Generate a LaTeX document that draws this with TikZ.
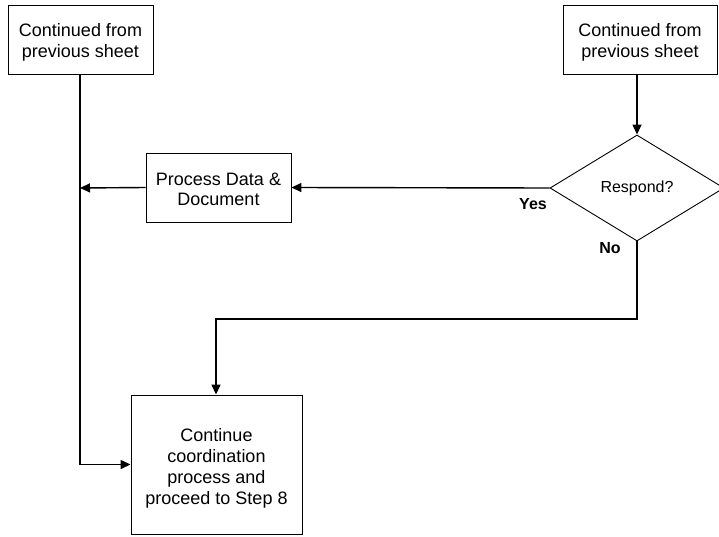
\documentclass[tikz,border=0pt]{standalone}
\usepackage{fontspec}
\setmainfont{Liberation Sans}
\usetikzlibrary{shapes.geometric,arrows.meta}
\newcommand{\topstrut}[1]{\rule{0pt}{#1}}
\begin{document}
\begin{tikzpicture}[x=1pt,y=-1pt,
  box/.style={draw,line width=0.9pt,inner sep=0pt,align=center,font=\fontsize{18}{20.5}\selectfont},
  conn/.style={line width=1.4pt,-{Triangle[length=10pt,width=9pt]}},
  lbl/.style={font=\fontsize{16}{18}\selectfont\bfseries}]
\useasboundingbox (0,0) rectangle (719,537);
\node[box,minimum width=145pt,minimum height=69pt] (a) at (80.5,39.5) {\topstrut{19pt}Continued from\\previous sheet};
\node[box,minimum width=154pt,minimum height=69pt] (b) at (640,39.5) {\topstrut{19pt}Continued from\\previous sheet};
\node[draw,diamond,line width=0.9pt,inner sep=0pt,minimum width=174pt,minimum height=106pt,font=\fontsize{16}{18}\selectfont] (d) at (637,188) {Respond?};
\node[box,minimum width=145pt,minimum height=69pt] (p) at (218.5,187.5) {\topstrut{16pt}Process Data \&\\Document};
\node[box,minimum width=171pt,minimum height=139pt,font=\fontsize{18}{21}\selectfont] (c) at (216.5,464.5) {\topstrut{21pt}Continue\\coordination\\process and\\proceed to Step 8};
\coordinate (j) at (80,188);
\coordinate (nb) at (637,319);
\coordinate (nc) at (216,319);
\draw[conn] (b.south -| d.north) -- (d.north);
\draw[conn] (d.west) -- (p.east);
\draw[conn] (p.west) -- (j);
\draw[conn] (a.south -| j) |- (c.west);
\draw[conn] (d.south) -- (nb) -- (nc) -- (c.north -| nc);
\node[lbl] (yes) at (533,204) {Yes};
\node[lbl] (no) at (610,248) {No};
\end{tikzpicture}
\end{document}
